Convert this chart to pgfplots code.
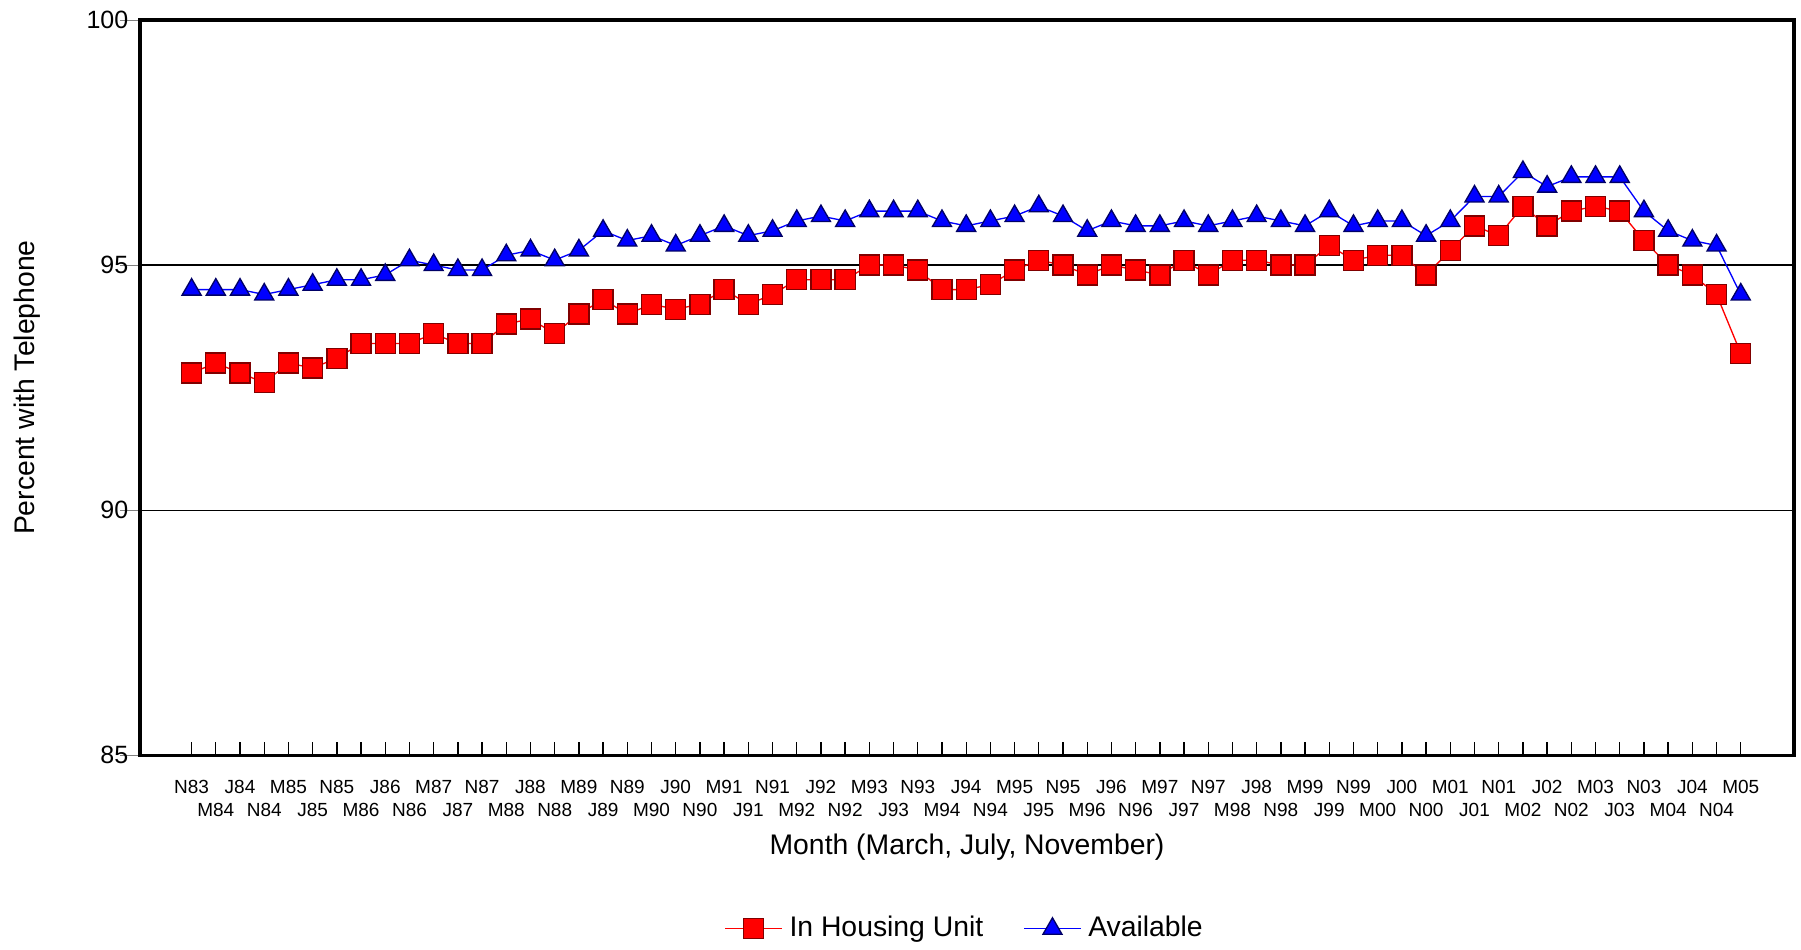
\documentclass[border=0pt]{standalone}
\usepackage{pgfplots}
\pgfplotsset{compat=1.18}
\usepackage{fontspec}
\setmainfont{Liberation Sans}
\begin{document}
\begin{tikzpicture}
\begin{axis}[name=ax, scale only axis, width=496pt, height=220.5pt,
  xmin=-2.13, xmax=66.2, ymin=85, ymax=100,
  ytick={85,90,95,100}, ymajorgrids, grid style={black, thin},
  y tick label style={font=\fontsize{7.5}{8}\selectfont},
  /pgf/number format/assume math mode=true,
  xtick={0,2,...,64}, x tick label style={font=\fontsize{5.7}{6.6}\selectfont, yshift=-4pt},
  xticklabels={N83,J84,M85,N85,J86,M87,N87,J88,M89,N89,J90,M91,N91,J92,M93,N93,J94,M95,N95,J96,M97,N97,J98,M99,N99,J00,M01,N01,J02,M03,N03,J04,M05},
  extra x ticks={1,3,...,63},
  extra x tick labels={M84,N84,J85,M86,N86,J87,M88,N88,J89,M90,N90,J91,M92,N92,J93,M94,N94,J95,M96,N96,J97,M98,N98,J99,M00,N00,J01,M02,N02,J03,M04,N04},
  extra x tick style={xmajorgrids=false, tick label style={yshift=-6.8pt}},
  xtick style={black, thin}, major tick length=4pt,
  xtick pos=bottom, ytick pos=left, tick align=inside,
  y tick style={/pgfplots/major tick length=6pt, xshift=-6pt},
  axis line style={line width=1pt},
  xlabel={Month (March, July, November)}, ylabel={Percent with Telephone},
  label style={font=\fontsize{8.5}{9}\selectfont},
  xlabel style={yshift=1.5pt}, ylabel style={yshift=7pt},
  legend style={draw=none, at={(axis description cs:0.5,-0.236)}, anchor=center, legend columns=2, font=\fontsize{8.5}{9}\selectfont, /tikz/every even column/.append style={column sep=10pt}},
]
\addplot[red, thin, mark=square*, mark size=3pt, mark options={fill=red, draw=red!50!black, thin}] coordinates {
(0,92.8)(1,93.0)(2,92.8)(3,92.6)(4,93.0)(5,92.9)(6,93.1)(7,93.4)(8,93.4)(9,93.4)
(10,93.6)(11,93.4)(12,93.4)(13,93.8)(14,93.9)(15,93.6)(16,94.0)(17,94.3)(18,94.0)(19,94.2)
(20,94.1)(21,94.2)(22,94.5)(23,94.2)(24,94.4)(25,94.7)(26,94.7)(27,94.7)(28,95.0)(29,95.0)
(30,94.9)(31,94.5)(32,94.5)(33,94.6)(34,94.9)(35,95.1)(36,95.0)(37,94.8)(38,95.0)(39,94.9)
(40,94.8)(41,95.1)(42,94.8)(43,95.1)(44,95.1)(45,95.0)(46,95.0)(47,95.4)(48,95.1)(49,95.2)
(50,95.2)(51,94.8)(52,95.3)(53,95.8)(54,95.6)(55,96.2)(56,95.8)(57,96.1)(58,96.2)(59,96.1)
(60,95.5)(61,95.0)(62,94.8)(63,94.4)(64,93.2)};
\addlegendentry{In Housing Unit}
\addplot[blue, thin, mark=triangle*, mark size=3.3pt, mark options={fill=blue, draw=blue!40!black, thin}] coordinates {
(0,94.5)(1,94.5)(2,94.5)(3,94.4)(4,94.5)(5,94.6)(6,94.7)(7,94.7)(8,94.8)(9,95.1)
(10,95.0)(11,94.9)(12,94.9)(13,95.2)(14,95.3)(15,95.1)(16,95.3)(17,95.7)(18,95.5)(19,95.6)
(20,95.4)(21,95.6)(22,95.8)(23,95.6)(24,95.7)(25,95.9)(26,96.0)(27,95.9)(28,96.1)(29,96.1)
(30,96.1)(31,95.9)(32,95.8)(33,95.9)(34,96.0)(35,96.2)(36,96.0)(37,95.7)(38,95.9)(39,95.8)
(40,95.8)(41,95.9)(42,95.8)(43,95.9)(44,96.0)(45,95.9)(46,95.8)(47,96.1)(48,95.8)(49,95.9)
(50,95.9)(51,95.6)(52,95.9)(53,96.4)(54,96.4)(55,96.9)(56,96.6)(57,96.8)(58,96.8)(59,96.8)
(60,96.1)(61,95.7)(62,95.5)(63,95.4)(64,94.4)};
\addlegendentry{Available}
\end{axis}
\pgfresetboundingbox
\path ([shift={(-42pt,-58.2pt)}]ax.south west) rectangle ([shift={(2.1pt,6pt)}]ax.north east);
\end{tikzpicture}
\end{document}
